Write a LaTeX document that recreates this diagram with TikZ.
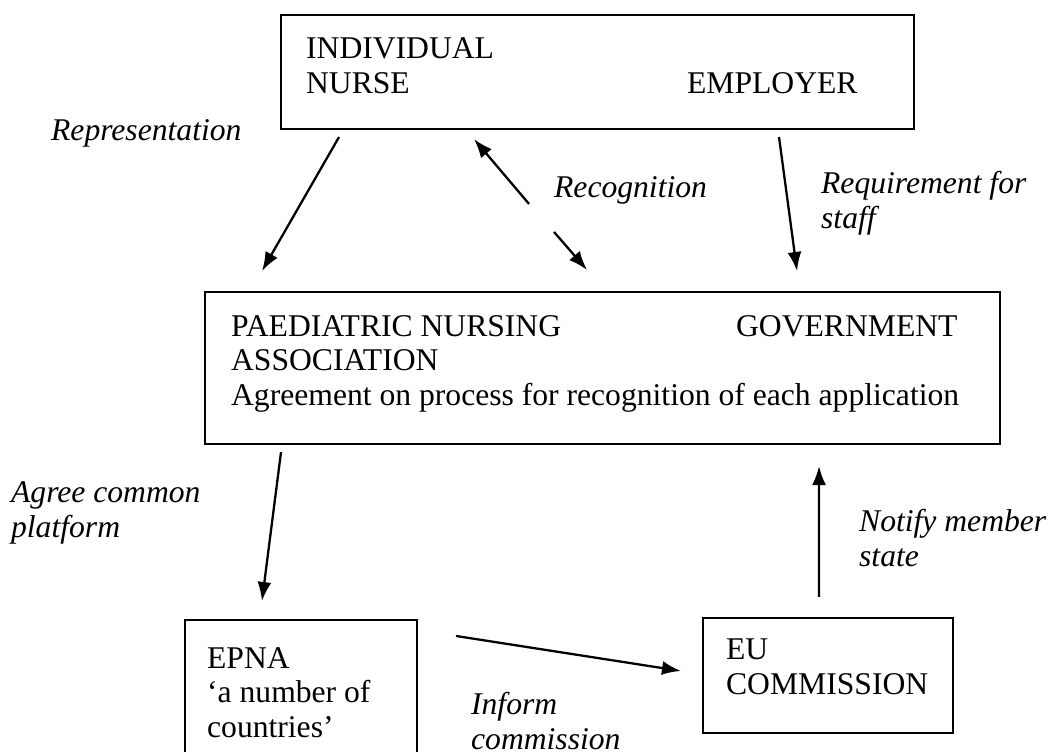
\documentclass[tikz,border=0pt]{standalone}
\usepackage{fontspec}
\setmainfont{Liberation Serif}
\usetikzlibrary{calc,arrows.meta}

\begin{document}
\begin{tikzpicture}[x=0.02cm,y=-0.02cm,>={Latex[length=3.8mm,width=2.8mm]},line width=1.3pt,
        every node/.style={font=\fontsize{18}{19.4}\selectfont,inner sep=0pt},
        box/.style={draw,line width=1.2pt},
        txt/.style={anchor=base west,align=left},
        lbl/.style={anchor=base west,align=left,font=\fontsize{18}{19.4}\selectfont\itshape}]
        \useasboundingbox (0,0) rectangle (1050,751);
        \clip (0,0) rectangle (1050,751);
        % boxes
        \node[box,minimum width=12.66cm,minimum height=2.28cm] (topbox) at (597.5,72){};
        \node[box,minimum width=15.9cm,minimum height=3.04cm] (midbox) at (602.5,368){};
        \node[box,minimum width=4.64cm,minimum height=3.4cm] (epnabox) at (301,705){};
        \node[box,minimum width=5.0cm,minimum height=2.3cm] (eubox) at (828,675.5){};
        % box texts (base = last line)
        \node[txt] (nurse) at (305,93){INDIVIDUAL\\NURSE};
        \node[txt] (employer) at (686,93){EMPLOYER};
        \node[txt] (assoc) at (230,405){PAEDIATRIC NURSING\\ASSOCIATION\\Agreement on process for recognition of each application};
        \node[txt] (govt) at (735,336){GOVERNMENT};
        \node[txt] (epna) at (206,737){EPNA\\`a number of\\countries'};
        \node[txt] (eu) at (725,694){EU\\COMMISSION};
        % connectors
        \draw[->] ($(topbox.south west)+(59,7)$) -- ($(midbox.north west)+(58,-20)$);
        \draw[->] ($(midbox.north west)+(325,-87)$) -- ($(topbox.south west)+(194,9)$);
        \draw[->] ($(midbox.north west)+(350,-59)$) -- ($(midbox.north west)+(383,-21)$);
        \draw[->] ($(topbox.south west)+(499,7)$) -- ($(midbox.north west)+(593,-20)$);
        \draw[->] ($(midbox.south west)+(77,7)$) -- ($(epnabox.north west)+(78,-18)$);
        \draw[->] ($(epnabox.north east)+(38,17)$) -- ($(eubox.north west)+(-21,54)$);
        \draw[->] ($(eubox.north west)+(117,-20)$) -- ($(midbox.south west)+(615,21)$);
        % labels
        \node[lbl] (rep) at (50,140){Representation};
        \node[lbl] (recog) at (553,197){Recognition};
        \node[lbl] (req) at (820,228){Requirement for\\staff};
        \node[lbl] (agree) at (10,537){Agree common\\platform};
        \node[lbl] (notify) at (858,566){Notify member\\state};
        \node[lbl] (inform) at (470,749){Inform\\commission};
\end{tikzpicture}
\end{document}
